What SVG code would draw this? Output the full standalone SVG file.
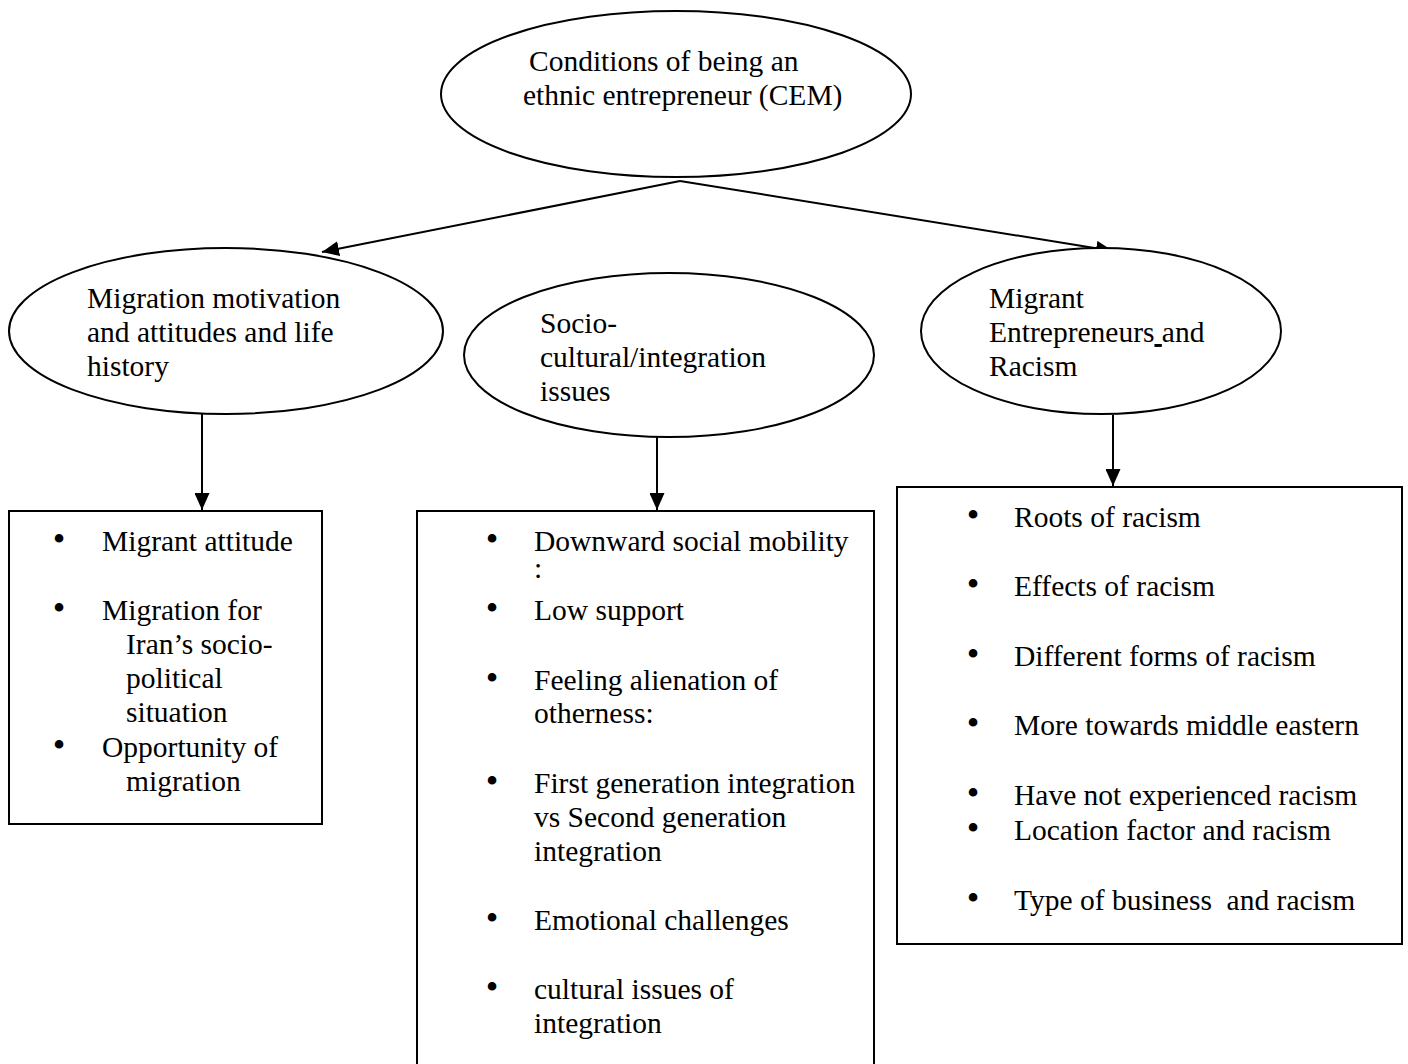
<svg xmlns="http://www.w3.org/2000/svg" width="1408" height="1064" viewBox="0 0 1408 1064">
<style>
.shape{fill:#fff;stroke:#000;stroke-width:2}
.t{font-family:"Liberation Serif","Times New Roman",serif;font-size:29.5px;fill:#000}
.b{font-family:"Liberation Serif","Times New Roman",serif;font-size:36px;fill:#000;text-anchor:middle}
.c{stroke:#000;stroke-width:2;fill:none}
</style>
<defs>
<marker id="ah" markerWidth="17" markerHeight="15" refX="17" refY="7.5" orient="auto" markerUnits="userSpaceOnUse">
<path d="M0,0 L17,7.5 L0,15 Z" fill="#000"/>
</marker>
</defs>
<rect width="1408" height="1064" fill="#fff"/>
<g id="connectors">
<line class="c" x1="680" y1="181" x2="322" y2="252" marker-end="url(#ah)"/>
<line class="c" x1="680" y1="181" x2="1113" y2="251" marker-end="url(#ah)"/>
<line class="c" x1="202" y1="414" x2="202" y2="510" marker-end="url(#ah)"/>
<line class="c" x1="657" y1="437" x2="657" y2="510" marker-end="url(#ah)"/>
<line class="c" x1="1113" y1="415" x2="1113" y2="486" marker-end="url(#ah)"/>
</g>
<g id="cem">
<ellipse class="shape" cx="676" cy="94" rx="235" ry="83"/>
<text class="t" x="529" y="71">Conditions of being an</text>
<text class="t" x="523" y="105">ethnic entrepreneur (CEM)</text>
</g>
<g id="migration">
<ellipse class="shape" cx="226" cy="331" rx="217" ry="83"/>
<text class="t" x="87" y="308">Migration motivation</text>
<text class="t" x="87" y="342">and attitudes and life</text>
<text class="t" x="87" y="376">history</text>
</g>
<g id="socio">
<ellipse class="shape" cx="669" cy="355" rx="205" ry="82"/>
<text class="t" x="540" y="333">Socio-</text>
<text class="t" x="540" y="367">cultural/integration</text>
<text class="t" x="540" y="401">issues</text>
</g>
<g id="racism">
<ellipse class="shape" cx="1101" cy="331" rx="180" ry="83"/>
<text class="t" x="989" y="308">Migrant</text>
<text class="t" x="989" y="342">Entrepreneurs<tspan text-decoration="underline"> </tspan>and</text>
<text class="t" x="989" y="376">Racism</text>
</g>
<g id="box1">
<rect class="shape" x="9" y="511" width="313" height="313"/>
<text class="b" x="59" y="551">•</text><text class="t" x="102" y="551">Migrant attitude</text>
<text class="b" x="59" y="620">•</text><text class="t" x="102" y="620">Migration for</text>
<text class="t" x="126" y="654">Iran’s socio-</text>
<text class="t" x="126" y="688">political</text>
<text class="t" x="126" y="722">situation</text>
<text class="b" x="59" y="757">•</text><text class="t" x="102" y="757">Opportunity of</text>
<text class="t" x="126" y="791">migration</text>
</g>
<g id="box2">
<rect class="shape" x="417" y="511" width="457" height="600"/>
<text class="b" x="492" y="551">•</text><text class="t" x="534" y="551">Downward social mobility</text>
<text class="t" x="534" y="578">:</text>
<text class="b" x="492" y="620">•</text><text class="t" x="534" y="620">Low support</text>
<text class="b" x="492" y="690">•</text><text class="t" x="534" y="690">Feeling alienation of</text>
<text class="t" x="534" y="723">otherness:</text>
<text class="b" x="492" y="793">•</text><text class="t" x="534" y="793">First generation integration</text>
<text class="t" x="534" y="827">vs Second generation</text>
<text class="t" x="534" y="861">integration</text>
<text class="b" x="492" y="930">•</text><text class="t" x="534" y="930">Emotional challenges</text>
<text class="b" x="492" y="999">•</text><text class="t" x="534" y="999">cultural issues of</text>
<text class="t" x="534" y="1033">integration</text>
</g>
<g id="box3">
<rect class="shape" x="897" y="487" width="505" height="457"/>
<text class="b" x="973" y="527">•</text><text class="t" x="1014" y="527">Roots of racism</text>
<text class="b" x="973" y="596">•</text><text class="t" x="1014" y="596">Effects of racism</text>
<text class="b" x="973" y="666">•</text><text class="t" x="1014" y="666">Different forms of racism</text>
<text class="b" x="973" y="735">•</text><text class="t" x="1014" y="735">More towards middle eastern</text>
<text class="b" x="973" y="805">•</text><text class="t" x="1014" y="805">Have not experienced racism</text>
<text class="b" x="973" y="840">•</text><text class="t" x="1014" y="840">Location factor and racism</text>
<text class="b" x="973" y="910">•</text><text class="t" x="1014" y="910" xml:space="preserve">Type of business  and racism</text>
</g>
</svg>
